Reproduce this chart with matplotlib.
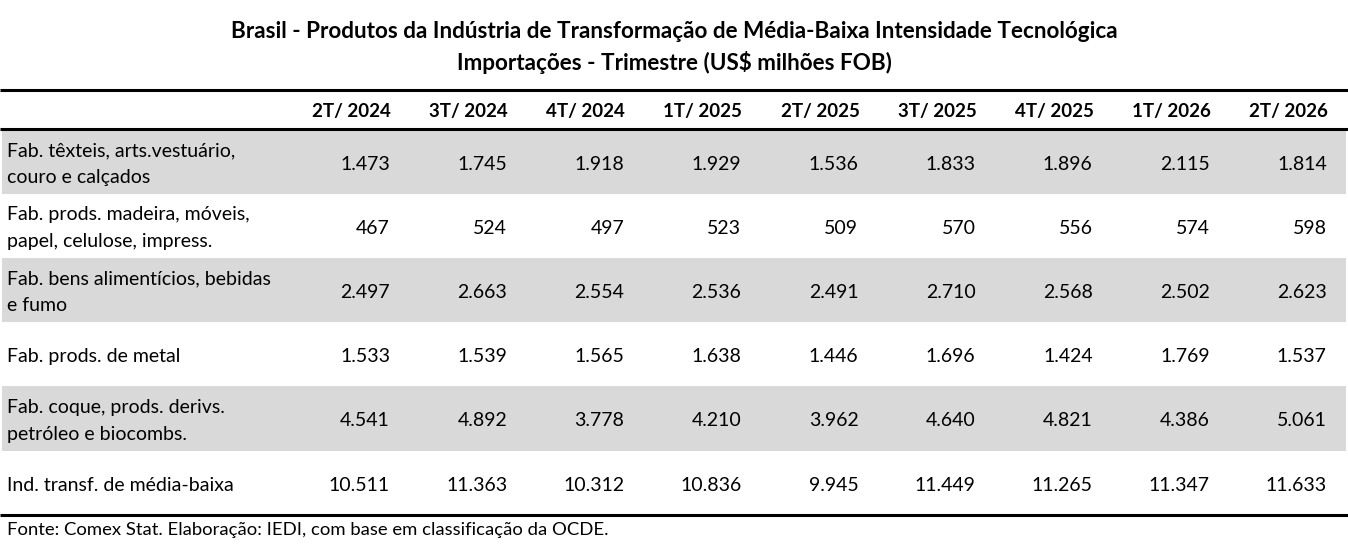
import matplotlib
matplotlib.use("Agg")
import matplotlib.pyplot as plt
from matplotlib.patches import Rectangle

# table data
title_lines = ["Brasil - Produtos da Indústria de Transformação de Média-Baixa Intensidade Tecnológica",
               "Importações - Trimestre (US$ milhões FOB)"]
periods = ["2T/ 2024", "3T/ 2024", "4T/ 2024", "1T/ 2025", "2T/ 2025",
           "3T/ 2025", "4T/ 2025", "1T/ 2026", "2T/ 2026"]
rows = [
    "Fab. têxteis, arts.vestuário,\ncouro e calçados",
    "Fab. prods. madeira, móveis,\npapel, celulose, impress.",
    "Fab. bens alimentícios, bebidas\ne fumo",
    "Fab. prods. de metal",
    "Fab. coque, prods. derivs.\npetróleo e biocombs.",
    "Ind. transf. de média-baixa",
]
textiles = [1473, 1745, 1918, 1929, 1536, 1833, 1896, 2115, 1814]
wood = [467, 524, 497, 523, 509, 570, 556, 574, 598]
food = [2497, 2663, 2554, 2536, 2491, 2710, 2568, 2502, 2623]
metal = [1533, 1539, 1565, 1638, 1446, 1696, 1424, 1769, 1537]
coke = [4541, 4892, 3778, 4210, 3962, 4640, 4821, 4386, 5061]
total = [10511, 11363, 10312, 10836, 9945, 11449, 11265, 11347, 11633]
values = [textiles, wood, food, metal, coke, total]
source = "Fonte: Comex Stat. Elaboração: IEDI, com base em classificação da OCDE."

W, H = 1348, 544
FONT = ["Lato", "DejaVu Sans"]
GRAY = "#D9D9D9"


def fmt(v):
    return f"{v:,}".replace(",", ".")


fig = plt.figure(figsize=(W / 100, H / 100), dpi=100)
ax = fig.add_axes([0, 0, 1, 1])
ax.set_xlim(0, W)
ax.set_ylim(H, 0)
ax.axis("off")

top, body_top, row_h = 90, 129.5, 64.2
col_right0, col_step = 390, 117.1

for k, line in enumerate(title_lines):
    ax.text(W / 2, 31 + k * 31, line, ha="center", va="center", fontsize=16.2,
            fontweight="bold", family=FONT)

# header
for j, p in enumerate(periods):
    ax.text(col_right0 + 1 + j * col_step, (top + body_top) / 2 + 2, p,
            ha="right", va="center", fontsize=13.5, fontweight="bold",
            family=FONT)

for i, (lab, vals) in enumerate(zip(rows, values)):
    y0 = body_top + i * row_h
    if i % 2 == 0:
        ax.add_patch(Rectangle((2, y0), W - 4, row_h, color=GRAY, lw=0,
                               zorder=0))
    yc = y0 + row_h / 2 + 2.5
    ax.text(7, yc, lab, ha="left", va="center", fontsize=14, family=FONT,
            linespacing=1.7)
    for j, v in enumerate(vals):
        ax.text(col_right0 + j * col_step, yc, fmt(v), ha="right", va="center",
                fontsize=14, family=FONT)

bottom = body_top + len(rows) * row_h
for y in (top, body_top - 1, bottom):
    ax.plot([0, W], [y, y], color="black", lw=2.2, solid_capstyle="butt")

ax.text(7, bottom + 15, source, ha="left", va="center", fontsize=13.3,
        family=FONT)

fig.savefig("out.png", dpi=100)
